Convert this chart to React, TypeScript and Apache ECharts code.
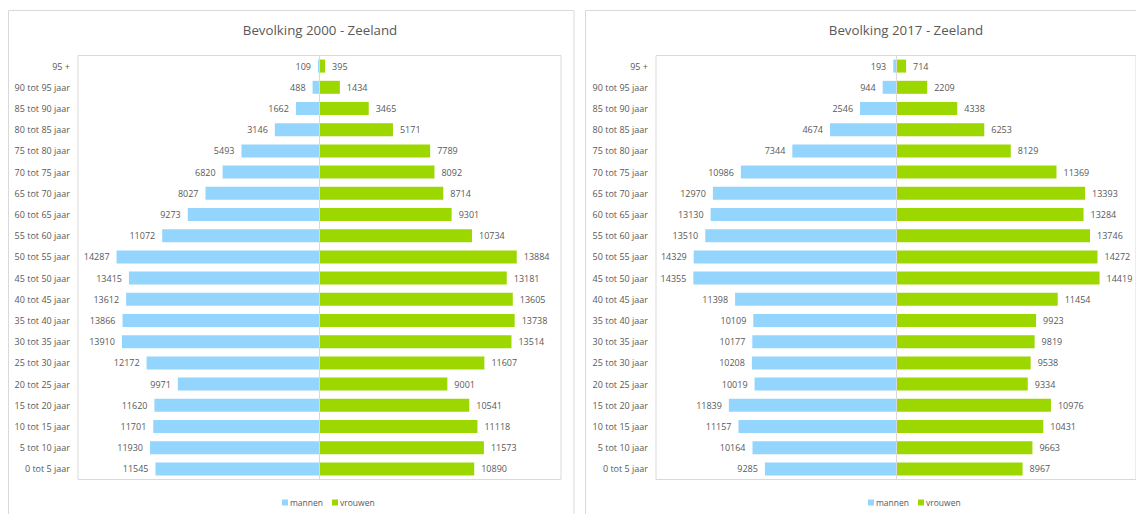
import React, { useEffect, useRef } from "react";
import * as echarts from "echarts";

const categories = [
  "0 tot 5 jaar", "5 tot 10 jaar", "10 tot 15 jaar", "15 tot 20 jaar", "20 tot 25 jaar",
  "25 tot 30 jaar", "30 tot 35 jaar", "35 tot 40 jaar", "40 tot 45 jaar", "45 tot 50 jaar",
  "50 tot 55 jaar", "55 tot 60 jaar", "60 tot 65 jaar", "65 tot 70 jaar", "70 tot 75 jaar",
  "75 tot 80 jaar", "80 tot 85 jaar", "85 tot 90 jaar", "90 tot 95 jaar", "95 +",
];

const men2000 = [11545, 11930, 11701, 11620, 9971, 12172, 13910, 13866, 13612, 13415, 14287, 11072, 9273, 8027, 6820, 5493, 3146, 1662, 488, 109];
const women2000 = [10890, 11573, 11118, 10541, 9001, 11607, 13514, 13738, 13605, 13181, 13884, 10734, 9301, 8714, 8092, 7789, 5171, 3465, 1434, 395];
const men2017 = [9285, 10164, 11157, 11839, 10019, 10208, 10177, 10109, 11398, 14355, 14329, 13510, 13130, 12970, 10986, 7344, 4674, 2546, 944, 193];
const women2017 = [8967, 9663, 10431, 10976, 9334, 9538, 9819, 9923, 11454, 14419, 14272, 13746, 13284, 13393, 11369, 8129, 6253, 4338, 2209, 714];

const FONT = "'Open Sans', sans-serif";
const TXT = "#595959";
const BORDER = "#d9d9d9";
const BLUE = "#93d5fd";
const GREEN = "#9cd700";

function buildOption(p: {
  title: string;
  men: number[];
  women: number[];
  gridLeft: number;
  titleX: number;
  legendLeft: number;
  frameX: number;
}) {
  return {
    animation: false,
    textStyle: { fontFamily: FONT },
    graphic: [
      {
        type: "rect",
        shape: { x: p.frameX, y: 10.5, width: 565.5, height: 540 },
        style: { fill: "none", stroke: BORDER, lineWidth: 1 },
        silent: true,
      },
      {
        type: "text",
        x: p.titleX,
        y: 29.5,
        style: {
          text: p.title,
          fill: TXT,
          font: `13.3px ${FONT}`,
          align: "center",
          verticalAlign: "middle",
        },
        silent: true,
      },
    ],
    legend: {
      data: ["mannen", "vrouwen"],
      left: p.legendLeft,
      top: 493,
      itemWidth: 6,
      itemHeight: 6,
      itemGap: 9,
      icon: "rect",
      textStyle: { fontSize: 8.5, color: TXT, fontFamily: FONT, padding: [0, 0, 0, -3] },
    },
    grid: {
      left: p.gridLeft,
      top: 55.5,
      width: 483,
      height: 424,
      show: true,
      borderColor: BORDER,
      borderWidth: 1,
      containLabel: false,
    },
    xAxis: {
      type: "value",
      min: -17000,
      max: 17000,
      show: false,
      splitLine: { show: false },
    },
    yAxis: {
      type: "category",
      data: categories,
      axisLine: { show: false },
      axisTick: { show: false },
      splitLine: { show: false },
      axisLabel: { fontSize: 9, color: TXT, fontFamily: FONT, margin: 8 },
    },
    series: [
      {
        name: "mannen",
        type: "bar",
        stack: "pop",
        barWidth: 13,
        data: p.men.map((v) => -v),
        itemStyle: { color: BLUE },
        label: {
          show: true,
          position: "left",
          distance: 7,
          fontSize: 9,
          color: TXT,
          fontFamily: FONT,
          formatter: (d: any) => String(Math.abs(d.value)),
        },
      },
      {
        name: "vrouwen",
        type: "bar",
        stack: "pop",
        barWidth: 13,
        data: p.women,
        itemStyle: { color: GREEN },
        label: {
          show: true,
          position: "right",
          distance: 7,
          fontSize: 9,
          color: TXT,
          fontFamily: FONT,
        },
        markLine: {
          silent: true,
          symbol: ["none", "none"],
          label: { show: false },
          lineStyle: { color: BORDER, type: "solid", width: 1 },
          data: [{ xAxis: 0 }],
        },
      },
    ],
  };
}

function Chart(props: { style: React.CSSProperties; option: any }) {
  const ref = useRef<HTMLDivElement>(null);
  useEffect(() => {
    if (!ref.current) return;
    const chart = echarts.init(ref.current, undefined, { renderer: "svg" });
    chart.setOption(props.option);
    return () => chart.dispose();
  }, []);
  return <div ref={ref} style={props.style} />;
}

export default function App() {
  const left = buildOption({
    title: "Bevolking 2000 - Zeeland",
    men: men2000,
    women: women2000,
    gridLeft: 78,
    titleX: 320,
    legendLeft: 277,
    frameX: 8.5,
  });
  const right = buildOption({
    title: "Bevolking 2017 - Zeeland",
    men: men2017,
    women: women2017,
    gridLeft: 76,
    titleX: 326,
    legendLeft: 283,
    frameX: 5.5,
  });
  return (
    <div style={{ position: "fixed", left: 0, top: 0, width: 1136, height: 514, background: "#fff", overflow: "hidden" }}>
      <Chart option={left} style={{ position: "absolute", left: 0, top: 0, width: 580, height: 514 }} />
      <Chart option={right} style={{ position: "absolute", left: 580, top: 0, width: 556, height: 514 }} />
    </div>
  );
}
